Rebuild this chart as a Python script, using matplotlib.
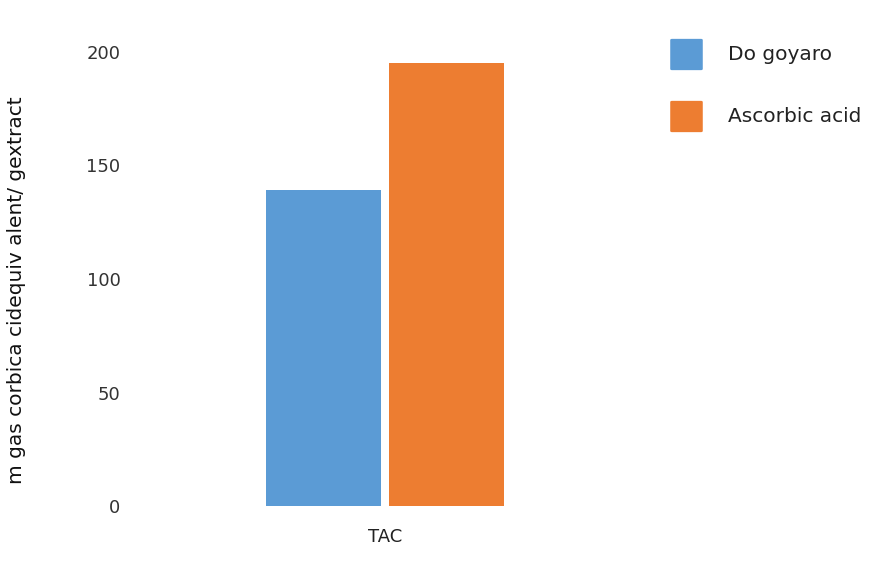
import matplotlib
matplotlib.use("Agg")
import matplotlib.pyplot as plt
from matplotlib.patches import FancyBboxPatch

categories = ["TAC"]
series_names = ["Do goyaro", "Ascorbic acid"]
series_values = [[139], [195]]
colors = ["#5B9BD5", "#ED7D31"]
yticks = [0, 50, 100, 150, 200]
ylabel = "m gas corbica cidequiv alent/ gextract"

W, H = 887, 571
fig = plt.figure(figsize=(W / 100, H / 100), dpi=100)
ax = fig.add_axes([140 / W, (H - 506) / H, 490 / W, (506 - 52) / H])

bw = 0.2347
gap = 0.0143
n = len(series_names)
for i, (name, vals) in enumerate(zip(series_names, series_values)):
    off = (i - (n - 1) / 2) * (bw + gap)
    ax.bar([j + off for j in range(len(categories))], vals, width=bw,
           color=colors[i], label=name, linewidth=0)

ax.set_xlim(-0.5, 0.5)
ax.set_ylim(0, 200)
ax.set_yticks(yticks)
ax.set_yticklabels([str(t) for t in yticks], fontsize=13, color="#333333")
ax.set_xticks(range(len(categories)))
ax.set_xticklabels(categories, fontsize=13, color="#222222")
ax.tick_params(length=0, pad=14, axis="y")
ax.tick_params(length=0, pad=16, axis="x")
for s in ax.spines.values():
    s.set_visible(False)
ax.set_ylabel(ylabel, fontsize=14.5, color="#111111")
ax.yaxis.set_label_coords((26 - 140) / 490, (506 - 290) / (506 - 52))

# legend (figure pixel layout)
leg_x, leg_y0, box, step = 670, 38, 33, 62
for i, (name, c) in enumerate(zip(series_names, colors)):
    top = leg_y0 + i * step
    p = FancyBboxPatch(((leg_x + 2) / W, (H - top - box + 2) / H), (box - 4) / W, (box - 4) / H,
                       boxstyle="round,pad=0.002", transform=fig.transFigure,
                       facecolor=c, edgecolor="none")
    fig.add_artist(p)
    fig.text(728 / W, (H - top - box / 2) / H, name, fontsize=14.5, color="#222222",
             va="center", ha="left")

fig.savefig("out.png", dpi=100)
